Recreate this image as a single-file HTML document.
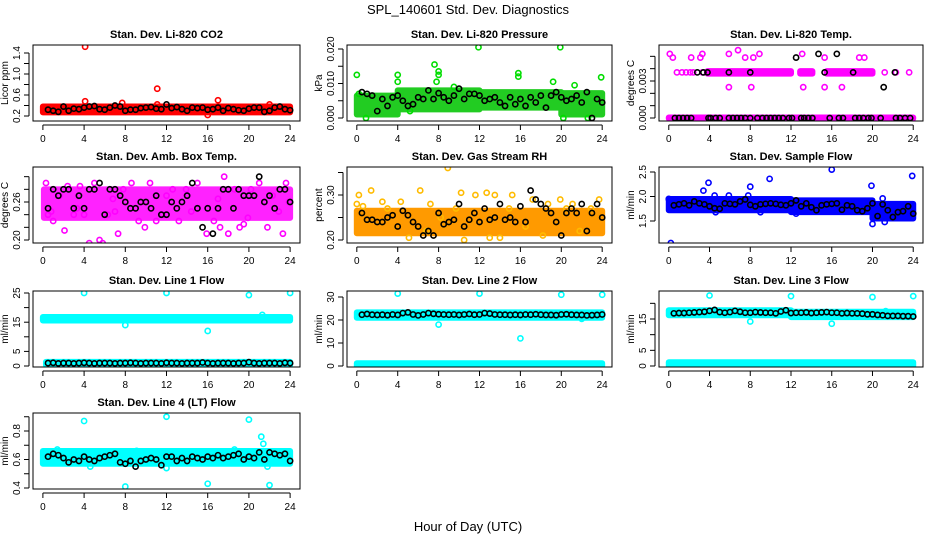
<!DOCTYPE html>
<html><head><meta charset="utf-8">
<style>
html,body{margin:0;padding:0;background:#fff;}
svg{display:block;font-family:"Liberation Sans",Arial,sans-serif;}
</style></head>
<body>
<svg id="chart" width="936" height="540" viewBox="0 0 936 540">
<text x="468" y="14" text-anchor="middle" font-size="13">SPL_140601  Std. Dev. Diagnostics</text>
<text x="468" y="531" text-anchor="middle" font-size="13">Hour of Day (UTC)</text>
</svg>
<script>
const xTicks = [0,4,8,12,16,20,24];
const blackHours = [0.5,1,1.5,2,2.5,3,3.5,4,4.5,5,5.5,6,6.5,7,7.5,8,8.5,9,9.5,10,10.5,11,11.5,12,12.5,13,13.5,14,14.5,15,15.5,16,16.5,17,17.5,18,18.5,19,19.5,20,20.5,21,21.5,22,22.5,23,23.5,24];

// CO2
const co2Segs = [[0,24,0.27,0.38]];
const co2Pts = [[4.1,1.52],[11.1,0.72],[17,0.5],[4.1,0.48],[7.7,0.45],[16,0.22],[22,0.42],[11.1,0.42],[0.1,0.36]];
const co2Black = [0.32,0.30,0.28,0.38,0.30,0.34,0.33,0.36,0.38,0.39,0.33,0.32,0.36,0.40,0.38,0.30,0.32,0.32,0.35,0.36,0.37,0.34,0.33,0.42,0.35,0.37,0.33,0.30,0.36,0.35,0.36,0.32,0.33,0.36,0.30,0.35,0.33,0.31,0.30,0.34,0.36,0.36,0.28,0.30,0.36,0.38,0.33,0.31];
// Pressure
const presSegs = [[0,4,0.001,0.0065],[4,12,0.0025,0.008],[12,20,0.003,0.0075],[20,24,0.001,0.0072]];
const presPts = [[0,0.0125],[4,0.0125],[4,0.0105],[7.6,0.0155],[8,0.0135],[8,0.0125],[7.8,0.0105],[11.9,0.0205],[19.9,0.0205],[15.8,0.013],[15.8,0.012],[19.2,0.0105],[23.9,0.0118],[0.9,0.0],[5.2,0.002],[20.2,0.0],[22.6,0.0],[21.3,0.0095],[9.5,0.009],[0.2,0.007]];
const presBlack = [0.0075,0.007,0.0065,0.002,0.0055,0.0035,0.006,0.0065,0.005,0.0035,0.004,0.006,0.0055,0.008,0.0055,0.0072,0.006,0.005,0.0065,0.0085,0.0055,0.007,0.007,0.0065,0.005,0.0055,0.006,0.0045,0.0035,0.006,0.004,0.0055,0.0035,0.006,0.0045,0.0065,0.003,0.0065,0.0075,0.006,0.005,0.0055,0.0065,0.0045,0.0075,0.0,0.0055,0.0045];
// Li-820 Temp
const tempSegs = [[0,24,-0.00004,0.00004],[3.8,12,0.0036,0.0038],[12.9,14.1,0.0036,0.0038],[15.5,20,0.0036,0.0038]];
const tempPts = [[0.8,0.0037],[1.3,0.0037],[1.7,0.0037],[2.1,0.0037],[2.4,0.0037],[3.3,0.0037],[22.3,0.0037],[23.6,0.0037],[0.4,0.0049],[2.2,0.0049],[3.1,0.0049],[7.5,0.0049],[8.3,0.0049],[15.3,0.0049],[18.7,0.0049],[19.2,0.0049],[0.1,0.0052],[3.3,0.0052],[5.9,0.0052],[8.9,0.0052],[13.1,0.0052],[6.8,0.0055],[5.9,0.0025],[8.1,0.0025],[13.2,0.0025],[15.3,0.0025],[17.0,0.0025],[21.2,0.0037]];
const tempBlackPts = [[2.8,0.0037],[3.4,0.0037],[3.8,0.0037],[5.9,0.0037],[8,0.0037],[15.3,0.0037],[18.1,0.0037],[22.2,0.0037],[12.5,0.0049],[14.7,0.0052],[16.5,0.0052],[21.1,0.0025],[0.6,0],[1,0],[1.4,0],[1.8,0],[2.2,0],[3.9,0],[4.1,0],[4.6,0],[5,0],[5.9,0],[6.3,0],[6.7,0],[7.1,0],[7.5,0],[8,0],[8.7,0],[9.2,0],[9.6,0],[10,0],[10.4,0],[10.8,0],[11.2,0],[11.8,0],[12.1,0],[13,0],[13.3,0],[13.7,0],[14.1,0],[15.8,0],[16.7,0],[17.1,0],[18.3,0],[18.7,0],[19.1,0],[19.6,0],[19.9,0],[20.8,0],[22.3,0],[22.7,0],[23.2,0],[23.7,0]];
// Amb box temp
const boxSegs = [[0.1,24,0.235,0.28]];
const boxPts = [[0.3,0.29],[0.5,0.24],[0.8,0.245],[1,0.23],[1.6,0.27],[2.1,0.215],[2.4,0.285],[3,0.24],[3.6,0.285],[4,0.24],[4.5,0.195],[5,0.29],[5.5,0.2],[5.8,0.195],[6.3,0.24],[7,0.245],[7.3,0.21],[7.8,0.28],[8.6,0.29],[9.3,0.23],[9.9,0.22],[10.4,0.29],[11,0.23],[11.6,0.24],[12.6,0.28],[13.2,0.23],[13.9,0.28],[14.4,0.245],[15,0.29],[15.9,0.21],[16.6,0.23],[17.2,0.22],[17.6,0.30],[18,0.21],[18.6,0.28],[19.1,0.22],[19.5,0.225],[19.9,0.235],[20.2,0.28],[21,0.29],[21.8,0.22],[22.3,0.27],[22.9,0.245],[23.3,0.21],[23.6,0.29],[23.9,0.26],[3.3,0.25],[6.8,0.265],[12,0.27],[17,0.265]];
const boxBlack = [0.25,0.28,0.27,0.28,0.28,0.25,0.27,0.25,0.28,0.28,0.29,0.24,0.28,0.28,0.27,0.26,0.25,0.25,0.26,0.26,0.25,0.27,0.24,0.24,0.26,0.25,0.26,0.27,0.29,0.25,0.22,0.25,0.21,0.25,0.28,0.28,0.25,0.28,0.27,0.27,0.27,0.30,0.26,0.27,0.25,0.28,0.28,0.26];
// RH
const rhSegs = [[0,24,0.215,0.265]];
const rhPts = [[0,0.28],[0.2,0.30],[0.6,0.275],[1.4,0.31],[2.5,0.285],[4.3,0.285],[5.1,0.205],[6.2,0.31],[7.2,0.28],[8.2,0.25],[8.9,0.36],[9.7,0.27],[10.2,0.305],[11.6,0.30],[12.7,0.305],[13.5,0.3],[14,0.205],[14.9,0.27],[17.2,0.29],[18.7,0.28],[19.9,0.29],[21.1,0.28],[21.8,0.22],[22.9,0.27],[23.7,0.29],[13,0.205],[16.5,0.23],[6.8,0.22],[10.5,0.2],[3,0.27],[18.2,0.21],[20.5,0.27],[15.2,0.30]];
const rhBlack = [0.26,0.245,0.245,0.24,0.24,0.25,0.255,0.23,0.265,0.255,0.24,0.23,0.21,0.22,0.21,0.26,0.235,0.24,0.245,0.28,0.23,0.245,0.26,0.24,0.27,0.245,0.25,0.28,0.245,0.25,0.24,0.275,0.24,0.31,0.29,0.28,0.27,0.26,0.24,0.21,0.26,0.27,0.26,0.28,0.22,0.26,0.28,0.25];
// Sample flow
const sfSegs = [[0,12,1.72,1.95],[12,20,1.68,1.92],[20,24,1.55,1.85]];
const sfPts = [[0.2,1.05],[0,1.95],[3.4,2.12],[3.9,2.28],[4.5,2.02],[5.9,2.02],[7.8,2.02],[8,2.2],[9.9,2.36],[16,2.55],[19.9,2.22],[20,1.44],[21,1.96],[23.9,2.42],[4.6,1.68],[9,1.68],[21.2,1.48],[12.5,1.65]];
const sfBlack = [1.82,1.84,1.86,1.82,1.90,1.86,1.84,1.80,1.76,1.75,1.86,1.85,1.84,1.90,1.94,1.83,1.80,1.84,1.85,1.86,1.85,1.83,1.82,1.86,1.92,1.80,1.86,1.78,1.72,1.82,1.84,1.85,1.86,1.73,1.82,1.80,1.72,1.70,1.76,1.86,1.60,1.84,1.72,1.58,1.68,1.70,1.80,1.65];
// Line 1
const l1Segs = [[0,24,15.6,16.8],[0.3,24,0.3,1.4]];
const l1Pts = [[4,25],[12,25],[20,24.3],[24,25],[8,14],[16,12],[21.3,17.5]];
const l1Black = [1.0,1.1,0.9,1.0,1.0,0.9,1.0,1.1,1.0,0.9,1.0,1.0,1.0,0.9,1.0,1.0,1.1,1.0,0.9,1.0,1.0,1.0,0.9,1.1,1.0,1.0,0.9,1.0,1.0,1.0,1.2,1.0,0.9,1.0,1.0,1.0,0.9,1.0,1.0,1.3,1.0,0.9,1.0,1.0,1.0,0.9,1.1,1.0];
// Line 2
const l2Segs = [[0,24,21,23.3],[0,24,-0.3,1.2]];
const l2Pts = [[4,31.5],[12,31.5],[20,31],[24,31],[8,18],[16,12],[22,20.5]];
const l2Black = [22.3,22.6,22.3,22.2,22.3,22.1,22.4,22.2,23.0,23.3,22.4,22.0,22.4,23.0,22.7,22.5,22.4,22.3,22.4,22.2,22.4,22.6,22.3,22.4,23.0,22.8,22.4,22.3,22.3,22.2,22.3,22.2,22.4,22.3,22.5,22.3,22.2,22.2,22.1,22.4,22.5,22.3,22.2,22.2,22.0,22.1,22.2,22.4];
// Line 3
const l3Segs = [[0,12,16.2,17.8],[12,24,15.6,17.3],[0,24,0,1.2]];
const l3Pts = [[4,22.5],[12,22.3],[20,22],[24,22.3],[8,14.2],[16,13.5],[21.3,17.5]];
const l3Black = [16.8,16.9,16.9,17.0,17.1,17.2,17.3,17.6,17.9,17.2,17.0,17.2,17.6,17.3,17.0,17.0,17.2,17.1,17.0,17.0,16.8,17.4,17.8,16.9,17.0,17.0,17.1,16.9,17.0,17.1,17.2,17.0,17.0,16.8,16.9,16.8,16.8,16.7,16.5,16.5,16.3,16.2,16.0,16.0,16.0,15.9,15.9,15.8];
// Line 4
const l4Segs = [[0,24,0.57,0.66]];
const l4Pts = [[4,0.87],[12,0.9],[20,0.88],[8,0.41],[16,0.43],[22,0.42],[21.2,0.76],[21.4,0.71],[21.8,0.55],[12,0.54],[4.6,0.55],[1.4,0.67],[9.1,0.66],[18.6,0.67]];
const l4Black = [0.62,0.64,0.63,0.61,0.58,0.60,0.59,0.62,0.60,0.59,0.61,0.62,0.63,0.64,0.58,0.57,0.59,0.55,0.59,0.60,0.61,0.60,0.56,0.62,0.62,0.59,0.61,0.59,0.62,0.61,0.60,0.62,0.61,0.63,0.61,0.62,0.63,0.64,0.60,0.62,0.61,0.65,0.60,0.65,0.64,0.63,0.64,0.59];

const colL=[33,347,659], colR=[300,612,923], rowT=[45,167,291,413], rowB=[121,243,367,489];
const panels=[
 {name:'co2',title:'Stan. Dev. Li-820 CO2',ylab:'Licor ppm',c:0,r:0,v1:0.2,p1:116,v2:1.4,p2:53,ticks:[0.2,0.4,0.6,0.8,1.0,1.2,1.4],labels:['0.2','0.6','1.0','1.4'],col:'#ff0000',fill:'#ff0000',segs:co2Segs,pts:co2Pts,black:co2Black},
 {name:'pressure',title:'Stan. Dev. Li-820 Pressure',ylab:'kPa',c:1,r:0,v1:0,p1:118,v2:0.02,p2:49,ticks:[0,0.005,0.01,0.015,0.02],labels:['0.000','0.010','0.020'],col:'#00dd00',fill:'#22cc22',segs:presSegs,pts:presPts,black:presBlack},
 {name:'li820-temp',title:'Stan. Dev. Li-820 Temp.',ylab:'degrees C',c:2,r:0,v1:0,p1:118,v2:0.003,p2:81,ticks:[0,0.001,0.002,0.003,0.004,0.005],labels:['0.000','0.003'],col:'#ff00ff',fill:'#ff00ff',segs:tempSegs,pts:tempPts,blackPts:tempBlackPts},
 {name:'amb-box-temp',title:'Stan. Dev. Amb. Box Temp.',ylab:'degrees C',c:0,r:1,v1:0.2,p1:240,v2:0.26,p2:202,ticks:[0.2,0.22,0.24,0.26,0.28,0.3],labels:['0.20','0.26'],col:'#ff00ff',fill:'#ff22ff',segs:boxSegs,pts:boxPts,black:boxBlack},
 {name:'gas-stream-rh',title:'Stan. Dev. Gas Stream RH',ylab:'percent',c:1,r:1,v1:0.2,p1:240,v2:0.3,p2:195,ticks:[0.2,0.25,0.3,0.35],labels:['0.20','0.30'],col:'#ffbb00',fill:'#ff9a00',segs:rhSegs,pts:rhPts,black:rhBlack},
 {name:'sample-flow',title:'Stan. Dev. Sample Flow',ylab:'ml/min',c:2,r:1,v1:1.5,p1:221,v2:2.5,p2:172,ticks:[1.5,2.0,2.5],labels:['1.5','2.0','2.5'],col:'#0000ff',fill:'#0000ff',segs:sfSegs,pts:sfPts,black:sfBlack},
 {name:'line1-flow',title:'Stan. Dev. Line 1 Flow',ylab:'ml/min',c:0,r:2,v1:0,p1:366,v2:25,p2:293,ticks:[0,5,10,15,20,25],labels:['0','5','15','25'],col:'#00ffff',fill:'#00ffff',segs:l1Segs,pts:l1Pts,black:l1Black},
 {name:'line2-flow',title:'Stan. Dev. Line 2 Flow',ylab:'ml/min',c:1,r:2,v1:0,p1:366,v2:30,p2:297,ticks:[0,10,20,30],labels:['0','10','20','30'],col:'#00ffff',fill:'#00ffff',segs:l2Segs,pts:l2Pts,black:l2Black},
 {name:'line3-flow',title:'Stan. Dev. Line 3 Flow',ylab:'ml/min',c:2,r:2,v1:0,p1:366,v2:15,p2:319,ticks:[0,5,10,15,20],labels:['0','5','15'],col:'#00ffff',fill:'#00ffff',segs:l3Segs,pts:l3Pts,black:l3Black},
 {name:'line4-flow',title:'Stan. Dev. Line 4 (LT) Flow',ylab:'ml/min',c:0,r:3,v1:0.4,p1:488,v2:0.8,p2:431,ticks:[0.4,0.5,0.6,0.7,0.8,0.9],labels:['0.4','0.6','0.8'],col:'#00ffff',fill:'#00ffff',segs:l4Segs,pts:l4Pts,black:l4Black}
];
const NS='http://www.w3.org/2000/svg';
const svg=document.getElementById('chart');
function mk(tag,attrs,parent){const e=document.createElementNS(NS,tag);for(const k in attrs)e.setAttribute(k,attrs[k]);(parent||svg).appendChild(e);return e;}
function fmt(v,labels){return labels;}
panels.forEach(p=>{
 const L=colL[p.c],R=colR[p.c],T=rowT[p.r],B=rowB[p.r];
 const g=mk('g',{});
 
 
 const xs=h=>L+(h+0.96)/25.92*(R-L);
 const ys=v=>p.p1+(v-p.v1)*(p.p2-p.p1)/(p.v2-p.v1);
 const clip='clip-'+p.name;
 const cp=mk('clipPath',{id:clip},g);mk('rect',{x:L,y:T,width:R-L,height:B-T},cp);
 const data=mk('g',{'clip-path':'url(#'+clip+')'},g);
 
 
 p.segs.forEach(s=>{
  const y1=ys(s[3]),y2=ys(s[2]);
  const r=mk('rect',{x:xs(s[0])-3,y:y1-3,width:xs(s[1])-xs(s[0])+6,height:Math.max(0,y2-y1)+6,rx:3,fill:p.fill},data);
  
  
 });
 p.pts.forEach(q=>{
  const c=mk('circle',{cx:xs(q[0]),cy:ys(q[1]),r:2.6,fill:'none',stroke:p.col,'stroke-width':1.6},data);
  
  
 });
 const bl=p.blackPts||p.black.map((v,i)=>[blackHours[i],v]);
 bl.forEach(q=>{
  const c=mk('circle',{cx:xs(q[0]),cy:ys(q[1]),r:2.6,fill:'none',stroke:'#000','stroke-width':1.6},data);
  
  
 });
 const box=mk('rect',{x:L,y:T,width:R-L,height:B-T,fill:'none',stroke:'#000','stroke-width':1},g);
 
 
 const t=mk('text',{x:(L+R)/2,y:T-7,'text-anchor':'middle','font-size':11,'font-weight':'bold'},g);
 t.textContent=p.title;
 
 
 // x axis
 mk('line',{x1:xs(0),x2:xs(24),y1:B+4,y2:B+4,stroke:'#000'},g);
 xTicks.forEach(h=>{
  mk('line',{x1:xs(h),x2:xs(h),y1:B+4,y2:B+9,stroke:'#000'},g);
  const tx=mk('text',{x:xs(h),y:B+21,'text-anchor':'middle','font-size':10},g);
  tx.textContent=h;
  
  
 });
 // y axis
 mk('line',{x1:L-4,x2:L-4,y1:ys(p.ticks[0]),y2:ys(p.ticks[p.ticks.length-1]),stroke:'#000'},g);
 p.ticks.forEach(v=>{mk('line',{x1:L-9,x2:L-4,y1:ys(v),y2:ys(v),stroke:'#000'},g);});
 p.labels.forEach(lb=>{
  const y=ys(parseFloat(lb)),x=L-13;
  const tx=mk('text',{x:x,y:y,'text-anchor':'middle','font-size':10,transform:'rotate(-90 '+x+' '+y+')'},g);
  tx.textContent=lb;
  
  
 });
 const yx=L-25,yy=(T+B)/2;
 const yl=mk('text',{x:yx,y:yy,'text-anchor':'middle','font-size':10,transform:'rotate(-90 '+yx+' '+yy+')'},g);
 yl.textContent=p.ylab;
 
 
});
</script>
</body></html>
